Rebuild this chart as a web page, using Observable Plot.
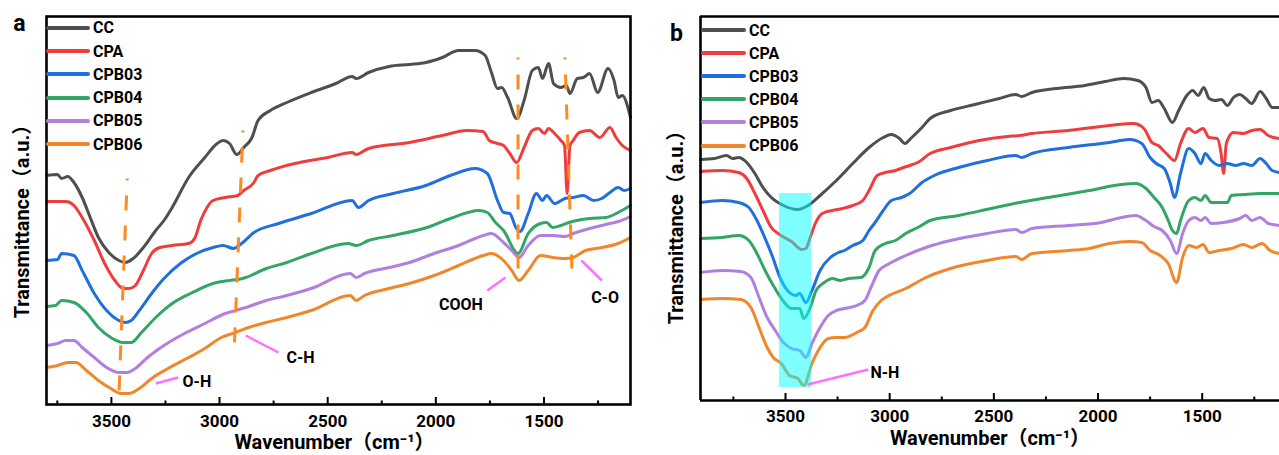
<!DOCTYPE html>
<html><head><meta charset="utf-8">
<script src="https://cdn.jsdelivr.net/npm/d3@7"></script>
<script src="https://cdn.jsdelivr.net/npm/@observablehq/plot@0.6"></script>
<style>
body{margin:0;background:#fff;}
#wrap{position:relative;width:1279px;height:455px;overflow:hidden;background:#fff;font-family:Roboto,"Noto Sans CJK SC",sans-serif;}
.panel{position:absolute;top:0;}
.item{position:absolute;display:flex;align-items:center;height:20px;white-space:nowrap;font-weight:bold;font-size:16px;color:#000;}
.sw{display:inline-block;height:4px;border-radius:2px;margin-right:3px;}
</style></head>
<body><div id="wrap"><div id="pa" class="panel" style="left:0"></div><div id="pb" class="panel" style="left:640px"></div></div>
<script>
// ---------- categories / styling inputs ----------
const seriesNames = ["CC", "CPA", "CPB03", "CPB04", "CPB05", "CPB06"];
const seriesColors = ["#4f4f4f", "#ef3d3d", "#1f6fdc", "#33a565", "#b07fe0", "#f0872c"];
const majorTicks = [3500, 3000, 2500, 2000, 1500];
const minorTicks = [3750, 3250, 2750, 2250, 1750, 1250];

// ---------- panel a : [wavenumber, transmittance (a.u.)] ----------
const aCC = [[3800,229],[3749,230],[3730,226],[3702,228],[3673,222],[3635,207],[3598,187],[3560,167],[3512,152],[3465,144],[3437,142],[3399,146],[3352,157],[3295,174],[3257,184],[3219,197],[3143,227],[3068,247],[3011,261],[2983,264],[2954,261],[2920,250],[2888,257],[2850,267],[2822,284],[2765,294],[2689,302],[2576,312],[2462,321],[2387,328],[2368,326],[2311,332],[2216,338],[2122,340],[2046,342],[1970,347],[1895,354],[1819,354],[1772,349],[1743,332],[1715,316],[1696,317],[1668,307],[1626,286],[1592,304],[1554,334],[1526,337],[1507,326],[1479,341],[1456,321],[1422,317],[1397,319],[1380,311],[1346,326],[1318,327],[1289,331],[1252,312],[1204,336],[1176,324],[1157,307],[1138,309],[1100,287]];
const aCPA = [[3800,203],[3711,203],[3673,199],[3635,187],[3579,164],[3531,141],[3484,124],[3446,116],[3418,116],[3389,119],[3352,134],[3314,151],[3276,157],[3219,159],[3143,161],[3115,166],[3087,184],[3058,197],[3030,204],[2973,207],[2916,209],[2888,214],[2841,222],[2822,229],[2765,234],[2652,241],[2500,247],[2387,252],[2368,250],[2311,256],[2122,262],[1970,269],[1857,274],[1781,273],[1753,264],[1715,261],[1687,259],[1658,251],[1626,242],[1592,257],[1554,274],[1526,276],[1498,271],[1479,276],[1451,271],[1422,264],[1405,259],[1393,211],[1380,259],[1365,264],[1337,272],[1289,274],[1242,267],[1195,277],[1167,267],[1138,259],[1100,254]];
const aCPB03 = [[3800,144],[3749,145],[3730,151],[3673,149],[3635,134],[3579,111],[3522,94],[3465,84],[3437,82],[3408,84],[3371,94],[3314,111],[3257,126],[3181,141],[3106,151],[3030,157],[2983,159],[2935,156],[2898,161],[2841,172],[2727,181],[2576,191],[2387,204],[2358,197],[2311,204],[2197,211],[2046,219],[1933,229],[1819,236],[1762,231],[1715,204],[1687,192],[1658,191],[1630,177],[1611,173],[1573,191],[1535,211],[1507,204],[1488,209],[1451,201],[1403,206],[1365,207],[1318,209],[1270,204],[1233,206],[1195,212],[1157,217],[1129,214],[1100,216]];
const aCPB04 = [[3800,98],[3758,99],[3730,104],[3673,102],[3616,92],[3560,77],[3503,67],[3446,62],[3408,62],[3361,72],[3295,87],[3219,101],[3125,112],[3030,121],[2954,124],[2916,125],[2879,127],[2784,136],[2689,142],[2576,151],[2406,161],[2368,159],[2311,164],[2197,169],[2027,178],[1933,186],[1800,194],[1762,192],[1724,182],[1687,174],[1620,151],[1573,171],[1516,181],[1488,182],[1460,177],[1422,179],[1384,182],[1289,186],[1214,187],[1157,192],[1100,199]];
const aCPB05 = [[3800,59],[3749,61],[3711,64],[3673,64],[3635,57],[3579,47],[3522,37],[3465,32],[3427,32],[3389,36],[3333,47],[3257,59],[3162,71],[3068,81],[2973,91],[2926,94],[2879,97],[2784,104],[2689,109],[2576,116],[2396,131],[2368,127],[2330,131],[2216,137],[2122,142],[2008,151],[1895,159],[1781,169],[1743,171],[1687,162],[1649,154],[1615,147],[1573,159],[1516,169],[1460,169],[1403,168],[1365,171],[1289,176],[1214,180],[1157,183],[1100,188]];
const aCPB06 = [[3800,37],[3749,39],[3702,42],[3664,42],[3616,34],[3560,24],[3503,16],[3456,11],[3418,11],[3371,16],[3314,26],[3238,36],[3143,47],[3068,56],[2992,67],[2926,72],[2879,76],[2784,82],[2689,87],[2576,94],[2396,109],[2368,104],[2330,109],[2216,116],[2122,121],[2008,129],[1895,139],[1781,149],[1743,151],[1687,144],[1649,134],[1615,124],[1573,134],[1516,149],[1460,147],[1403,146],[1365,147],[1308,154],[1233,157],[1157,161],[1100,167]];
const aPeakLines = [{x1:3427,y1:226,x2:3465,y2:11},{x1:2892,y1:274,x2:2931,y2:62},{x1:1620,y1:347,x2:1620,y2:136},{x1:1403,y1:347,x2:1371,y2:136}];
const aLeaders = [{x1:3295,y1:21,x2:3191,y2:27},{x1:2879,y1:69,x2:2727,y2:52},{x1:1678,y1:127,x2:1762,y2:114},{x1:1327,y1:144,x2:1232,y2:124}];
const aLabels = [{x:3171,y:23,t:"O-H"},{x:2690,y:47,t:"C-H"},{x:1985,y:100,t:"COOH"},{x:1282,y:107,t:"C-O"}];

// ---------- panel b ----------
const bCC = [[3908,241],[3842,242],[3783,245],[3754,242],[3725,243],[3686,238],[3647,227],[3608,213],[3568,203],[3510,195],[3441,191],[3392,195],[3334,205],[3256,220],[3177,237],[3099,253],[3031,263],[2992,266],[2953,262],[2927,257],[2894,263],[2845,273],[2806,282],[2708,290],[2591,296],[2474,302],[2395,306],[2366,304],[2317,308],[2200,312],[2063,315],[1965,319],[1877,322],[1809,320],[1770,313],[1741,298],[1711,300],[1682,292],[1643,278],[1613,290],[1574,305],[1545,310],[1520,305],[1492,313],[1467,302],[1437,300],[1408,301],[1379,295],[1350,303],[1320,306],[1291,302],[1262,297],[1222,309],[1193,302],[1164,293],[1129,293]];
const bCPA = [[3908,229],[3803,230],[3725,228],[3686,222],[3647,207],[3608,190],[3568,173],[3529,166],[3471,159],[3422,151],[3402,152],[3383,162],[3357,177],[3324,187],[3275,190],[3226,192],[3177,195],[3129,200],[3099,210],[3060,225],[3021,228],[2972,230],[2933,233],[2904,235],[2865,238],[2806,247],[2708,253],[2571,260],[2435,264],[2376,265],[2317,267],[2141,270],[1946,275],[1829,277],[1780,272],[1741,258],[1711,255],[1672,247],[1633,240],[1604,257],[1565,272],[1535,268],[1496,272],[1467,263],[1428,262],[1410,248],[1397,227],[1385,256],[1375,262],[1350,268],[1301,267],[1262,270],[1222,271],[1183,265],[1129,262]];
const bCPB03 = [[3908,198],[3803,200],[3725,198],[3676,193],[3637,180],[3608,167],[3568,147],[3520,120],[3481,108],[3451,105],[3432,107],[3402,98],[3373,110],[3334,130],[3285,143],[3246,148],[3217,150],[3177,155],[3129,160],[3099,170],[3070,178],[3031,190],[2992,200],[2943,203],[2904,207],[2845,218],[2786,225],[2669,233],[2532,240],[2395,245],[2366,243],[2317,247],[2141,253],[1946,258],[1848,261],[1790,257],[1750,243],[1721,237],[1682,232],[1653,217],[1633,203],[1604,227],[1565,252],[1535,247],[1506,237],[1486,247],[1457,240],[1418,235],[1379,237],[1340,235],[1301,237],[1262,235],[1222,242],[1193,237],[1164,230],[1129,228]];
const bCPB04 = [[3908,162],[3803,163],[3725,165],[3676,160],[3637,147],[3598,130],[3559,115],[3520,102],[3471,92],[3432,92],[3412,82],[3383,92],[3353,110],[3314,118],[3275,122],[3236,120],[3197,122],[3138,123],[3099,133],[3070,150],[3021,157],[2972,160],[2923,167],[2865,173],[2806,180],[2669,185],[2513,192],[2376,198],[2239,203],[2043,210],[1887,216],[1819,217],[1770,212],[1731,203],[1692,193],[1663,180],[1643,170],[1623,167],[1604,180],[1565,200],[1535,203],[1506,200],[1486,205],[1457,198],[1379,198],[1360,205],[1301,206],[1222,207],[1129,207]];
const bCPB05 = [[3908,128],[3803,130],[3715,129],[3666,123],[3627,103],[3588,83],[3549,70],[3510,58],[3471,52],[3432,50],[3402,43],[3373,57],[3334,73],[3295,85],[3256,90],[3217,92],[3158,95],[3119,100],[3090,113],[3051,130],[3001,137],[2923,145],[2826,153],[2708,160],[2532,167],[2395,171],[2366,168],[2317,172],[2141,175],[1985,178],[1887,183],[1819,185],[1770,180],[1731,174],[1692,170],[1653,160],[1623,147],[1594,167],[1565,180],[1535,183],[1506,180],[1486,183],[1457,177],[1398,178],[1320,182],[1291,185],[1262,180],[1222,183],[1183,177],[1129,175]];
const bCPB06 = [[3908,101],[3803,102],[3715,101],[3666,93],[3627,73],[3588,53],[3559,43],[3520,37],[3481,25],[3441,22],[3412,15],[3373,37],[3334,53],[3295,62],[3256,63],[3217,63],[3158,68],[3119,73],[3080,90],[3041,100],[2982,107],[2923,112],[2826,123],[2708,132],[2532,140],[2395,144],[2366,141],[2317,147],[2141,150],[2043,152],[1946,157],[1848,159],[1790,158],[1750,150],[1702,145],[1663,137],[1623,118],[1594,143],[1565,155],[1526,153],[1496,156],[1467,148],[1418,150],[1359,152],[1301,156],[1262,153],[1213,157],[1174,150],[1129,147]];
const bBand = [{x1:3529,x2:3373,y1:13,y2:207}];
const bLeaders = [{x1:3394,y1:16,x2:3102,y2:31}];
const bLabels = [{x:3092,y:28,t:"N-H"}];

const xTitle = "Wavenumber（cm⁻¹）";
const yTitle = "Transmittance（a.u.）";
const FONT = 'Roboto, "Noto Sans CJK SC", sans-serif';

function buildPanel(cfg) {
  const marks = [];
  cfg.series.forEach((s, i) => marks.push(Plot.line(s, {x: d => d[0], y: d => d[1], stroke: seriesColors[i], strokeWidth: 3, curve: "monotone-x"})));
  if (cfg.band) marks.push(Plot.rect(cfg.band, {x1: "x1", x2: "x2", y1: "y1", y2: "y2", fill: "#00ffff", fillOpacity: 0.5}));
  if (cfg.peaks) marks.push(Plot.link(cfg.peaks, {x1: "x1", y1: "y1", x2: "x2", y2: "y2", stroke: "#ff8a1e", strokeWidth: 3, strokeDasharray: "15,15", strokeDashoffset: 13}));
  marks.push(Plot.link(cfg.leaders, {x1: "x1", y1: "y1", x2: "x2", y2: "y2", stroke: "#ff70ff", strokeWidth: 2.5}));
  marks.push(Plot.text(cfg.labels, {x: "x", y: "y", text: "t", textAnchor: "start", fontSize: 16, fontWeight: "bold", fill: "#000"}));
  if (cfg.fullFrame) {
    marks.push(Plot.frame({stroke: "#000", strokeWidth: 2.6}));
  } else {
    marks.push(Plot.ruleX([cfg.xDomain[0]], {stroke: "#000", strokeWidth: 2.6}));
    marks.push(Plot.ruleY(cfg.yDomain, {stroke: "#000", strokeWidth: 2.6}));
  }
  marks.push(Plot.axisX(majorTicks, {tickSize: -7, strokeWidth: 2, tickFormat: () => "", label: null}));
  marks.push(Plot.axisX(minorTicks, {tickSize: -3.5, strokeWidth: 2, tickFormat: () => "", label: null}));
  marks.push(Plot.axisX(majorTicks, {tickSize: 0, tickPadding: cfg.tickPad, tickFormat: d => String(d), fontSize: 17, fontWeight: "bold", label: null}));
  marks.push(Plot.text([xTitle], {frameAnchor: "bottom", textAnchor: "middle", dx: cfg.xtDx, dy: cfg.xtDy, fontSize: 20, fontWeight: "bold", lineAnchor: "middle"}));
  marks.push(Plot.text([yTitle], {frameAnchor: "left", textAnchor: "middle", rotate: -90, dx: -24, dy: cfg.ytDy, fontSize: 20, fontWeight: "bold", lineAnchor: "middle"}));
  marks.push(Plot.text([cfg.letter], {frameAnchor: "top-left", textAnchor: "middle", dx: cfg.letterDx, dy: cfg.letterDy, fontSize: 23, fontWeight: "bold", lineAnchor: "middle"}));
  return Plot.plot({
    width: cfg.width, height: 455,
    marginLeft: cfg.marginLeft, marginRight: cfg.marginRight, marginTop: 16, marginBottom: cfg.marginBottom,
    x: {domain: cfg.xDomain, label: null},
    y: {domain: cfg.yDomain, axis: null},
    style: {fontFamily: FONT, background: "transparent", overflow: "visible", color: "#000"},
    marks
  });
}

document.getElementById("pa").append(buildPanel({
  series: [aCC, aCPA, aCPB03, aCPB04, aCPB05, aCPB06],
  xDomain: [3800, 1100], yDomain: [0, 388],
  width: 640, marginLeft: 46, marginRight: 10, marginBottom: 51,
  peaks: aPeakLines, leaders: aLeaders, labels: aLabels, fullFrame: true,
  tickPad: 10, xtDx: -4, xtDy: 38, ytDy: 6, letter: "a", letterDx: -27, letterDy: 7
}));
document.getElementById("pb").append(buildPanel({
  series: [bCC, bCPA, bCPB03, bCPB04, bCPB05, bCPB06],
  xDomain: [3908, 1129], yDomain: [0, 384],
  width: 639, marginLeft: 60, marginRight: 0, marginBottom: 55,
  band: bBand, leaders: bLeaders, labels: bLabels, fullFrame: false,
  tickPad: 9, xtDx: 0, xtDy: 38, ytDy: 14, letter: "b", letterDx: -24, letterDy: 17
}));

// legends (HTML overlays inside each frame)
function legend(left, top, step, swatchW) {
  const wrap = document.getElementById("wrap");
  seriesNames.forEach((name, i) => {
    const it = document.createElement("div");
    it.className = "item";
    it.style.left = left + "px";
    it.style.top = (top + i * step - 10) + "px";
    const sw = document.createElement("span");
    sw.className = "sw"; sw.style.width = swatchW + "px"; sw.style.background = seriesColors[i];
    it.append(sw, document.createTextNode(name));
    wrap.append(it);
  });
}
legend(46, 27.7, 23.3, 44);
legend(701, 30, 23.1, 45);
</script>
</body></html>
